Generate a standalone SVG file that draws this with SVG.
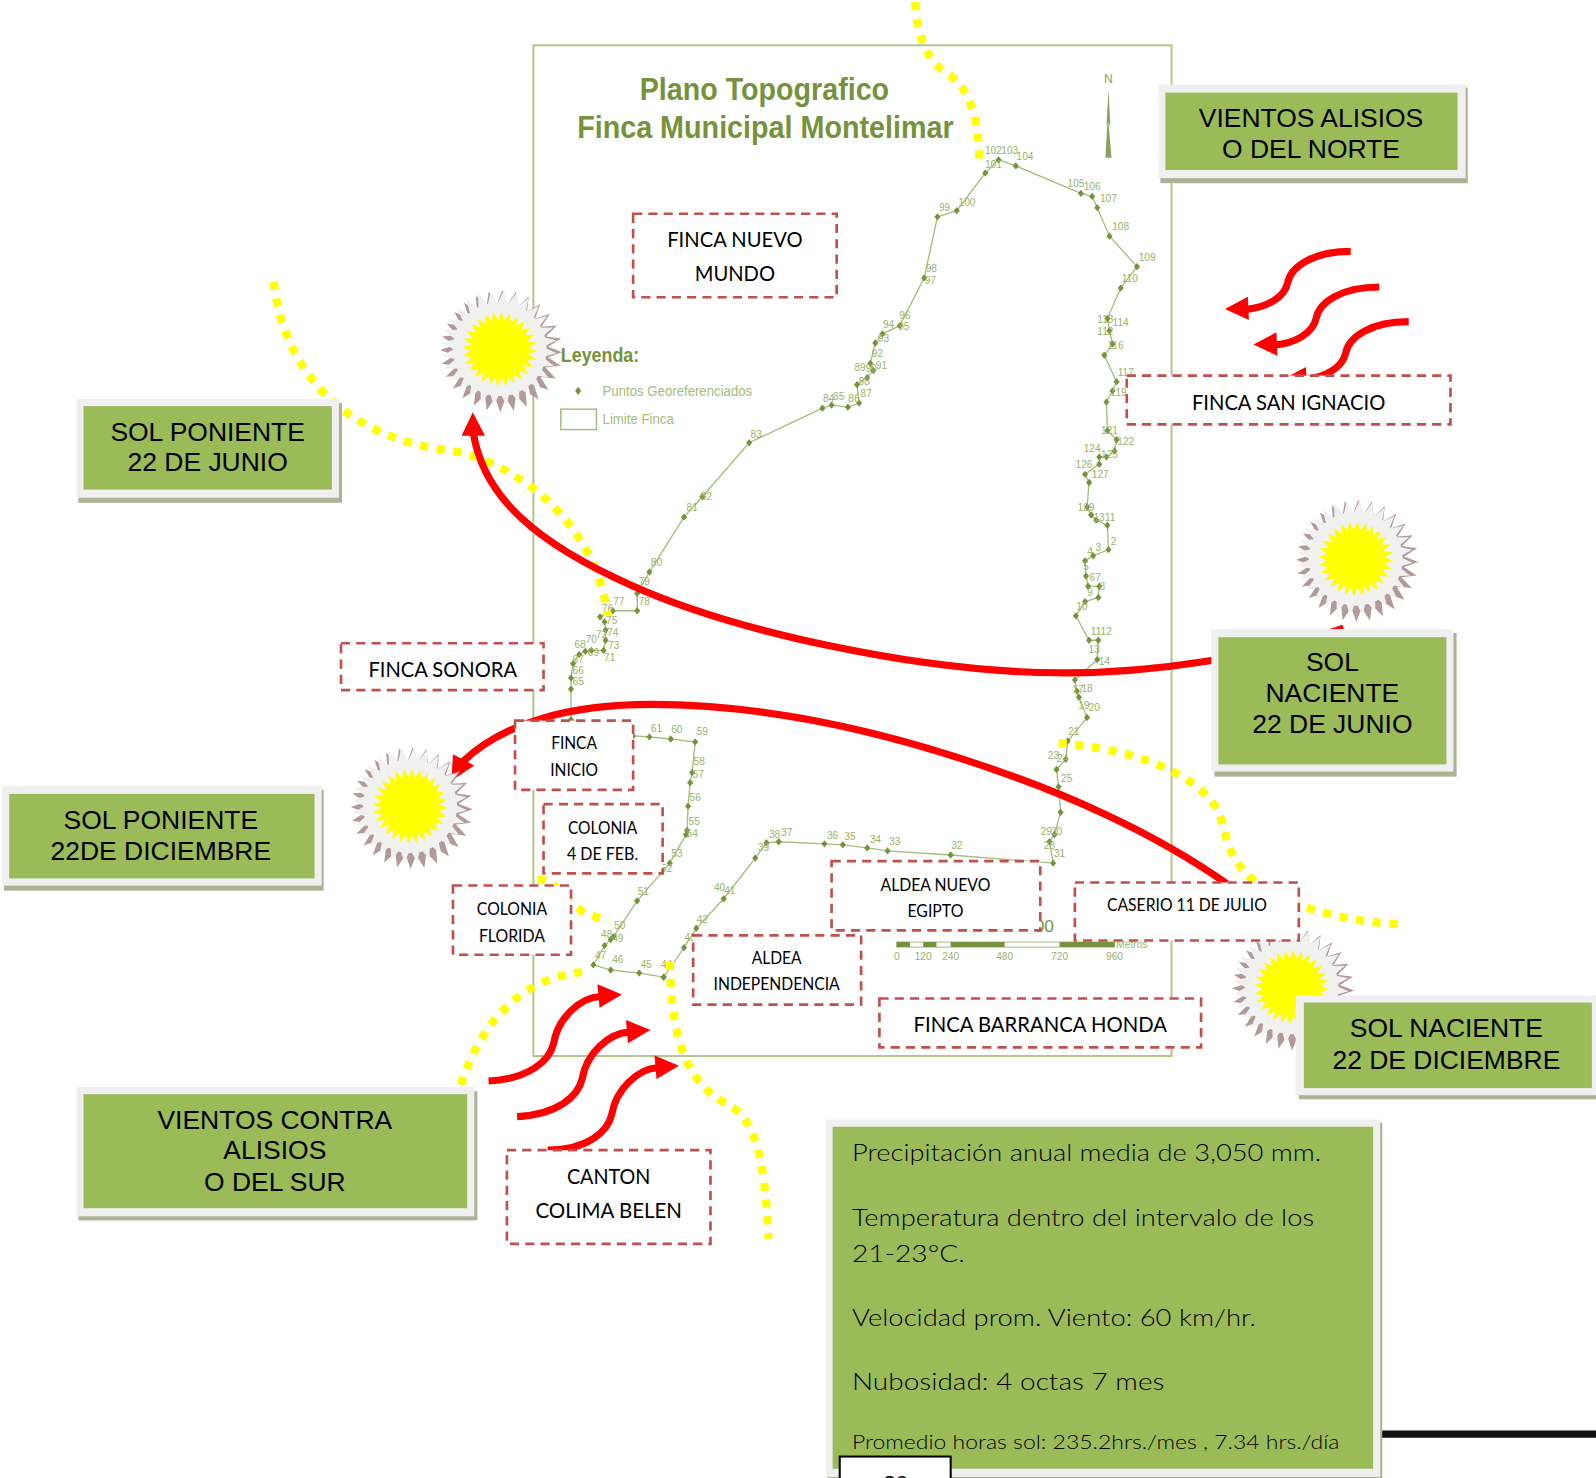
<svg xmlns="http://www.w3.org/2000/svg" xmlns:xlink="http://www.w3.org/1999/xlink" width="1596" height="1478" viewBox="0 0 1596 1478">
<style>
.g0{fill:#abb394}.g1{fill:#f0f0f0}.g2{fill:#9bbb59}
.gt{font:26px "Liberation Sans",Arial,sans-serif;fill:#000;text-anchor:middle}
.d{fill:#fff;stroke:#c0504d;stroke-width:2.6;stroke-dasharray:9 6}
.dt{font-family:Lato,"Open Sans",sans-serif;fill:#000;text-anchor:middle}
.big{font-size:21px}.small{font-size:16.5px}
.y{fill:none;stroke:#ff0;stroke-width:8;stroke-dasharray:8 8.500}
.r{fill:none;stroke:#f00;stroke-width:7}
.rh{fill:#f00}
.n{font:10px "Liberation Sans",Arial,sans-serif;fill:#9ab26a;text-anchor:middle}
.title{font:bold 31px "Liberation Sans",Arial,sans-serif;fill:#76923c;text-anchor:middle}
.c{font:300 24px Lato,"Open Sans",sans-serif;fill:#000}
.lg{font:14px "Liberation Sans",Arial,sans-serif;fill:#a6bc7c}
</style>
<defs>
<polygon id="star" points="100,0 76.5,8.6 97.5,22.3 72.7,25.4 90.1,43.4 65.2,41 78.2,62.4 54.4,54.4 62.4,78.2 41,65.2 43.4,90.1 25.4,72.7 22.3,97.5 8.6,76.5 0,100 -8.6,76.5 -22.3,97.5 -25.4,72.7 -43.4,90.1 -41,65.2 -62.4,78.2 -54.4,54.4 -78.2,62.4 -65.2,41 -90.1,43.4 -72.7,25.4 -97.5,22.3 -76.5,8.6 -100,0 -76.5,-8.6 -97.5,-22.3 -72.7,-25.4 -90.1,-43.4 -65.2,-41 -78.2,-62.4 -54.4,-54.4 -62.4,-78.2 -41,-65.2 -43.4,-90.1 -25.4,-72.7 -22.3,-97.5 -8.6,-76.5 0,-100 8.6,-76.5 22.3,-97.5 25.4,-72.7 43.4,-90.1 41,-65.2 62.4,-78.2 54.4,-54.4 78.2,-62.4 65.2,-41 90.1,-43.4 72.7,-25.4 97.5,-22.3 76.5,-8.6"/>
<g id="sun">
<use xlink:href="#star" href="#star" fill="#b09a9a" transform="translate(1.500,2) rotate(1) scale(.6)"/>
<use xlink:href="#star" href="#star" fill="#f1f1f1" transform="translate(-1,-1) rotate(5) scale(.57)"/>
<circle r="46" fill="#f1f1f1"/>
<use xlink:href="#star" href="#star" fill="#ff0" transform="rotate(3) scale(.37)"/>
</g>
<marker id="pt" markerUnits="userSpaceOnUse" markerWidth="8" markerHeight="8" viewBox="-4 -4 8 8" refX="0" refY="0"><polygon points="0,-3.6 3,0 0,3.6 -3,0" fill="#76923c"/></marker>
</defs>
<g transform="scale(1.01786)">
<g id="map">
<rect x="524" y="44.500" width="627" height="993" fill="#fff" stroke="#b4c48e" stroke-width="2"/>
<text class="title" x="751" y="98" textLength="245" lengthAdjust="spacingAndGlyphs">Plano Topografico</text>
<text class="title" x="752" y="136" textLength="370" lengthAdjust="spacingAndGlyphs">Finca Municipal Montelimar</text>
<text x="1089" y="82" font-family="Liberation Sans,sans-serif" font-size="12" fill="#8aa160" text-anchor="middle">N</text>
<polygon points="1089,88 1091,125 1089,120 1092,155 1086,155 1088,120 1087,125" fill="#8aa160"/>
<text x="551" y="356" font-family="Liberation Sans,sans-serif" font-weight="bold" font-size="20" fill="#76923c" textLength="77" lengthAdjust="spacingAndGlyphs">Leyenda:</text>
<polygon points="568,380 571,384 568,388 565,384" fill="#76923c"/>
<text class="lg" x="592" y="389" textLength="147" lengthAdjust="spacingAndGlyphs">Puntos Georeferenciados</text>
<rect x="551" y="402" width="35" height="20" fill="#fff" stroke="#a9bd83" stroke-width="1.500"/>
<text class="lg" x="592" y="417" textLength="70" lengthAdjust="spacingAndGlyphs">Limite Finca</text>
<polygon fill="none" stroke="#a6bc7c" stroke-width="1.300" marker-start="url(#pt)" marker-mid="url(#pt)" marker-end="url(#pt)" points="652,960 672,931 684,912 711,883 742,843 753,828 765,827 810,829 828,830 852,833 872,836 934,840 1034.7,848 1031,827 1036,820 1042,798 1040,773 1038,756 1047,746 1049,728 1068,705 1060,685 1058,679 1056,668 1078,648 1079,629 1070,629 1057,605 1066,591 1079,587 1080,576 1069,576 1067,566 1066,551 1074,546 1089,540 1088,516 1077,511 1072,506 1068,498 1070,474 1066,466 1080,456 1080,449 1087,449 1095,443 1097,432 1088,423 1087,395 1093,384 1097,375 1085,349 1093,338 1090,325 1088,313 1101,283 1117,262 1090,232 1078,204 1073,193 1062,190 998,163 981,157 968,170 940,207 921,213 908,273 884,320 867,328 860,337 855,357 858,364 852,371 842,378 844,396 833,400 817,398 808,401 736,435 690,488 672,508 638,562 626,583 626,600 602,600 589.5,606 594,611 595,619 595,629 593,639 581,639 575,640 569,643 563,652 561,666 561,677 561,707 622,723 638,724 659,726 683,729 680,759 678,769 676,792 675,816 674,820 658,848 626,885 603,920 600,923 594,929 583,948 600,953 628,956"/>
<g id="map-labels">
<text class="n" x="976" y="151">102</text><text class="n" x="992" y="151">103</text><text class="n" x="1007" y="157">104</text><text class="n" x="976" y="165">101</text><text class="n" x="1057" y="184">105</text><text class="n" x="1073" y="187">106</text><text class="n" x="1089" y="198">107</text><text class="n" x="1101" y="226">108</text><text class="n" x="1127" y="256">109</text><text class="n" x="1110" y="277">110</text><text class="n" x="1086" y="317">113</text><text class="n" x="1101" y="320">114</text><text class="n" x="1086" y="329">112</text><text class="n" x="1096" y="343">116</text><text class="n" x="1106" y="369">117</text><text class="n" x="1099" y="389">119</text><text class="n" x="1090" y="426">121</text><text class="n" x="1106" y="437">122</text><text class="n" x="1073" y="444">124</text><text class="n" x="1090" y="450">125</text><text class="n" x="1065" y="460">126</text><text class="n" x="1081" y="470">127</text><text class="n" x="1067" y="502">129</text><text class="n" x="1085" y="512">1311</text><text class="n" x="1094" y="535">2</text><text class="n" x="1079" y="541">3</text><text class="n" x="1071" y="545">4</text><text class="n" x="1067" y="560">5</text><text class="n" x="1076" y="571">67</text><text class="n" x="1083" y="580">8</text><text class="n" x="1071" y="586">9</text><text class="n" x="1063" y="599">10</text><text class="n" x="1082" y="624">1112</text><text class="n" x="1075" y="642">13</text><text class="n" x="1085" y="653">14</text><text class="n" x="1059" y="681">17</text><text class="n" x="1068" y="680">18</text><text class="n" x="1065" y="697">19</text><text class="n" x="1075" y="699">20</text><text class="n" x="1055" y="722">21</text><text class="n" x="1035" y="746">23</text><text class="n" x="1044" y="749">24</text><text class="n" x="1048" y="768">25</text><text class="n" x="1028" y="820">29</text><text class="n" x="1038" y="820">30</text><text class="n" x="1031" y="834">28</text><text class="n" x="1041" y="842">31</text>
<text class="n" x="940" y="834">32</text><text class="n" x="879" y="830">33</text><text class="n" x="860" y="828">34</text><text class="n" x="835" y="825">35</text><text class="n" x="818" y="824">36</text><text class="n" x="773" y="821">37</text><text class="n" x="761" y="823">38</text><text class="n" x="750" y="836">39</text><text class="n" x="707" y="875">40</text><text class="n" x="717" y="878">41</text><text class="n" x="690" y="907">42</text><text class="n" x="678" y="924">43</text><text class="n" x="655" y="951">44</text><text class="n" x="635" y="951">45</text><text class="n" x="607" y="946">46</text><text class="n" x="590" y="942">47</text><text class="n" x="596" y="922">48</text><text class="n" x="607" y="925">49</text><text class="n" x="609" y="913">50</text><text class="n" x="632" y="879">51</text><text class="n" x="655" y="857">52</text><text class="n" x="665" y="842">53</text><text class="n" x="680" y="822">54</text><text class="n" x="682" y="811">55</text><text class="n" x="683" y="787">56</text><text class="n" x="686" y="764">57</text><text class="n" x="687" y="752">58</text><text class="n" x="690" y="722">59</text><text class="n" x="665" y="720">60</text><text class="n" x="645" y="719">61</text>
<text class="n" x="608" y="594">77</text><text class="n" x="633" y="594">78</text><text class="n" x="601" y="613">75</text><text class="n" x="597" y="601">76</text><text class="n" x="602" y="625">74</text><text class="n" x="603" y="638">73</text><text class="n" x="591" y="627">72</text><text class="n" x="599" y="649">71</text><text class="n" x="581" y="632">70</text><text class="n" x="583" y="644">69</text><text class="n" x="570" y="637">68</text><text class="n" x="568" y="651">67</text><text class="n" x="568" y="662">66</text><text class="n" x="568" y="673">65</text><text class="n" x="633" y="575">79</text><text class="n" x="645" y="556">80</text><text class="n" x="680" y="502">81</text><text class="n" x="694" y="491">82</text><text class="n" x="743" y="430">83</text><text class="n" x="814" y="395">84</text><text class="n" x="824" y="393">85</text><text class="n" x="839" y="395">86</text><text class="n" x="851" y="390">87</text><text class="n" x="849" y="378">88</text><text class="n" x="845" y="364">89</text><text class="n" x="856" y="365">90</text><text class="n" x="866" y="363">91</text><text class="n" x="862" y="351">92</text><text class="n" x="868" y="336">93</text><text class="n" x="873" y="322">94</text><text class="n" x="888" y="324">95</text><text class="n" x="889" y="313">96</text><text class="n" x="914" y="279">97</text><text class="n" x="915" y="267">98</text><text class="n" x="928" y="207">99</text><text class="n" x="950" y="202">100</text>
</g>
<g id="scale-bar">
<text x="1026" y="916" font-family="Liberation Sans,sans-serif" font-size="17" fill="#76923c" text-anchor="middle">00</text>
<rect x="881" y="925.500" width="214" height="5" fill="#fff" stroke="#a9bd83"/>
<path d="M881 925.500h13v5h-13zM907 925.500h13v5h-13zM934 925.500h53v5h-53zM1041 925.500h54v5h-54z" fill="#76923c"/>
<text class="n" x="881" y="943">0</text><text class="n" x="907" y="943">120</text><text class="n" x="934" y="943">240</text><text class="n" x="987" y="943">480</text><text class="n" x="1041" y="943">720</text><text class="n" x="1095" y="943">960</text><text class="n" x="1112" y="931" font-size="8">Metros</text>
</g>
</g>
<g id="connectors">
<path class="y" d="M899,2 C901,30 908,55 925,68 C945,80 962,100 962,160"/>
<path class="y" d="M269,277 C275,335 310,420 430,441 C500,447 585,510 597,605"/>
<path class="y" d="M1040,730 C1110,735 1185,760 1200,805 C1208,840 1215,850 1232,865 C1255,885 1310,905 1375,908"/>
<path class="y" d="M572,955 C520,960 475,995 452,1068"/>
<path class="y" d="M658,945 C660,1000 665,1060 715,1085 C745,1100 752,1150 755,1217"/>
<path class="y" d="M528,864 C555,865 550,895 598,904"/>
<path class="r" d="M1320,617 C1240,645 1130,662 1040,661 C900,660 720,620 620,575 C530,535 475,490 465,425"/>
<polygon class="rh" points="464.500,405 453.500,428 476.500,428"/>
<path class="r" d="M1205,868 C1130,815 1040,778 982,758 C880,722 760,692 640,692 C560,692 495,710 455,748"/>
<polygon class="rh" points="443.500,767 445,741 466,752"/>
<g id="wind-north">
<path class="r" d="M1327,247 C1290,247 1268,262 1265,278 C1262,292 1245,302 1224,304"/>
<polygon class="rh" points="1203.500,303.500 1226,291.500 1227,314.500"/>
<path class="r" d="M1355,282 C1318,282 1296,297 1293,313 C1290,327 1273,337 1252,339"/>
<polygon class="rh" points="1231.500,338.500 1254,326.500 1255,349.500"/>
<path class="r" d="M1384,316 C1347,316 1325,331 1322,347 C1319,361 1302,371 1281,373"/>
<polygon class="rh" points="1260.500,372.500 1283,360.500 1284,383.500"/>
</g>
<g id="wind-south">
<path class="r" d="M480,1062 C520,1060 540,1042 544,1025 C548,1000 570,980 590,979"/>
<polygon class="rh" points="611,977 587,967 589,990"/>
<path class="r" d="M508,1097 C548,1095 568,1077 572,1060 C576,1035 598,1015 618,1014"/>
<polygon class="rh" points="639,1012 615,1002 617,1025"/>
<path class="r" d="M538,1130 C577,1130 597,1112 601,1095 C605,1070 627,1050 646,1049"/>
<polygon class="rh" points="667,1047 643,1037 645,1060"/>
</g>
</g>
<g id="sun-1"><use xlink:href="#sun" href="#sun" x="491" y="343"/></g>
<g id="sun-2"><use xlink:href="#sun" href="#sun" x="1332" y="549"/></g>
<g id="sun-3"><use xlink:href="#sun" href="#sun" x="403" y="792"/></g>
<g id="sun-4"><use xlink:href="#sun" href="#sun" x="1269" y="970"/></g>
<g id="finca-nuevo-mundo"><rect class="d" x="622" y="210" width="200" height="82"/><text class="dt big" x="722" y="243" textLength="133" lengthAdjust="spacingAndGlyphs">FINCA NUEVO</text><text class="dt big" x="722" y="276" textLength="79" lengthAdjust="spacingAndGlyphs">MUNDO</text></g>
<g id="finca-san-ignacio"><rect class="d" x="1107" y="369" width="318" height="48"/><text class="dt big" x="1266" y="403" textLength="190" lengthAdjust="spacingAndGlyphs">FINCA SAN IGNACIO</text></g>
<g id="finca-sonora"><rect class="d" x="335" y="632" width="199" height="46"/><text class="dt big" x="435" y="665" textLength="146" lengthAdjust="spacingAndGlyphs">FINCA SONORA</text></g>
<g id="finca-inicio"><rect class="d" x="506" y="708" width="116" height="68"/><text class="dt small" x="564" y="736" textLength="45" lengthAdjust="spacingAndGlyphs">FINCA</text><text class="dt small" x="564" y="762" textLength="47" lengthAdjust="spacingAndGlyphs">INICIO</text></g>
<g id="colonia-4-feb"><rect class="d" x="534" y="790" width="117" height="68"/><text class="dt small" x="592" y="819" textLength="68" lengthAdjust="spacingAndGlyphs">COLONIA</text><text class="dt small" x="592" y="845" textLength="70" lengthAdjust="spacingAndGlyphs">4 DE FEB.</text></g>
<g id="colonia-florida"><rect class="d" x="445" y="870" width="116" height="68"/><text class="dt small" x="503" y="899" textLength="69" lengthAdjust="spacingAndGlyphs">COLONIA</text><text class="dt small" x="503" y="925" textLength="65" lengthAdjust="spacingAndGlyphs">FLORIDA</text></g>
<g id="aldea-nuevo-egipto"><rect class="d" x="817" y="846" width="205" height="68"/><text class="dt small" x="919" y="875" textLength="108" lengthAdjust="spacingAndGlyphs">ALDEA NUEVO</text><text class="dt small" x="919" y="901" textLength="55" lengthAdjust="spacingAndGlyphs">EGIPTO</text></g>
<g id="caserio-11-julio"><rect class="d" x="1056" y="867" width="220" height="57"/><text class="dt small" x="1166" y="895" textLength="157" lengthAdjust="spacingAndGlyphs">CASERIO 11 DE JULIO</text></g>
<g id="aldea-independencia"><rect class="d" x="681" y="919" width="165" height="68"/><text class="dt small" x="763" y="947" textLength="49" lengthAdjust="spacingAndGlyphs">ALDEA</text><text class="dt small" x="763" y="973" textLength="124" lengthAdjust="spacingAndGlyphs">INDEPENDENCIA</text></g>
<g id="finca-barranca-honda"><rect class="d" x="864" y="981" width="316" height="48"/><text class="dt big" x="1022" y="1014" textLength="249" lengthAdjust="spacingAndGlyphs">FINCA BARRANCA HONDA</text></g>
<g id="canton-colima-belen"><rect class="d" x="498" y="1130" width="200" height="92"/><text class="dt big" x="598" y="1163" textLength="82" lengthAdjust="spacingAndGlyphs">CANTON</text><text class="dt big" x="598" y="1197" textLength="144" lengthAdjust="spacingAndGlyphs">COLIMA BELEN</text></g>
<g id="vientos-alisios"><rect class="g0" x="1140" y="86" width="302" height="94"/><rect class="g1" x="1138" y="83" width="302" height="92"/><rect class="g2" x="1145" y="91" width="287" height="76"/><text class="gt" x="1288" y="125">VIENTOS ALISIOS</text><text class="gt" x="1288" y="155">O DEL NORTE</text></g>
<g id="sol-poniente-junio"><rect class="g0" x="77" y="396" width="259" height="98"/><rect class="g1" x="75" y="392" width="258" height="97"/><rect class="g2" x="82" y="399" width="244" height="82"/><text class="gt" x="204" y="433">SOL PONIENTE</text><text class="gt" x="204" y="463">22 DE JUNIO</text></g>
<g id="sol-naciente-junio"><rect class="g0" x="1193" y="622" width="238" height="141"/><rect class="g1" x="1190" y="618" width="238" height="140"/><rect class="g2" x="1197" y="626" width="224" height="125"/><text class="gt" x="1309" y="659">SOL</text><text class="gt" x="1309" y="690">NACIENTE</text><text class="gt" x="1309" y="720">22 DE JUNIO</text></g>
<g id="sol-poniente-diciembre"><rect class="g0" x="4" y="776" width="314" height="99"/><rect class="g1" x="2" y="772" width="314" height="98"/><rect class="g2" x="9" y="780" width="300" height="83"/><text class="gt" x="158" y="814">SOL PONIENTE</text><text class="gt" x="158" y="845">22DE DICIEMBRE</text></g>
<g id="sol-naciente-diciembre"><rect class="g0" x="1276" y="982" width="292" height="98"/><rect class="g1" x="1273" y="978" width="295" height="98"/><rect class="g2" x="1281" y="985" width="283" height="84"/><text class="gt" x="1421" y="1019">SOL NACIENTE</text><text class="gt" x="1421" y="1050">22 DE DICIEMBRE</text></g>
<g id="vientos-contra"><rect class="g0" x="77" y="1072" width="392" height="127"/><rect class="g1" x="75" y="1068" width="391" height="127"/><rect class="g2" x="82" y="1075" width="377" height="112"/><text class="gt" x="270" y="1109">VIENTOS CONTRA</text><text class="gt" x="270" y="1139">ALISIOS</text><text class="gt" x="270" y="1170">O DEL SUR</text></g>
<path id="line" d="M1357 1409H1568" stroke="#111" stroke-width="7" fill="none"/>
<g id="clima"><rect class="g0" x="813" y="1103" width="545" height="350"/><rect class="g1" x="811" y="1100" width="545" height="351"/><rect class="g2" x="818" y="1107" width="531" height="336"/>
<text class="c" x="837" y="1141" textLength="461" lengthAdjust="spacingAndGlyphs">Precipitación anual media de 3,050 mm.</text>
<text class="c" x="837" y="1204" textLength="454" lengthAdjust="spacingAndGlyphs">Temperatura dentro del intervalo de los</text>
<text class="c" x="837" y="1240" textLength="111" lengthAdjust="spacingAndGlyphs">21-23°C.</text>
<text class="c" x="837" y="1303" textLength="397" lengthAdjust="spacingAndGlyphs">Velocidad prom. Viento: 60 km/hr.</text>
<text class="c" x="837" y="1366" textLength="307" lengthAdjust="spacingAndGlyphs">Nubosidad: 4 octas 7 mes</text>
<text class="c" x="837" y="1424" style="font-size:20px" textLength="479" lengthAdjust="spacingAndGlyphs">Promedio horas sol:  235.2hrs./mes , 7.34 hrs./día</text>
</g>
<g id="page-number"><rect x="825" y="1431" width="109" height="40" fill="#fff" stroke="#000" stroke-width="2"/><text x="880" y="1465" font-family="Liberation Sans,sans-serif" font-size="22" text-anchor="middle" fill="#000">30</text></g>
</g>
</svg>
